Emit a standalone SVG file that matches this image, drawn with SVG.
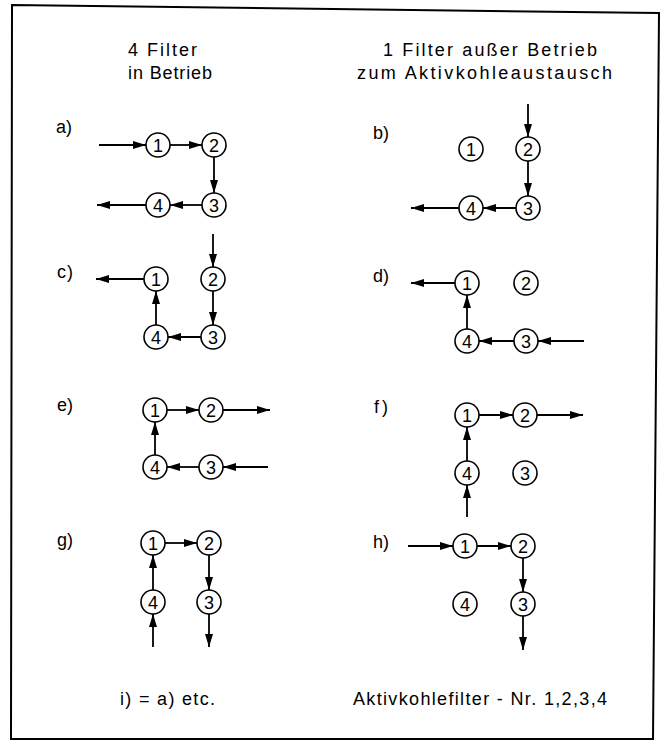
<svg xmlns="http://www.w3.org/2000/svg" width="660" height="749" viewBox="0 0 660 749">
<defs>
<marker id="ah" markerUnits="userSpaceOnUse" markerWidth="13" markerHeight="8" refX="13" refY="4" orient="auto">
<path d="M0,0 L13,4 L0,8 Z" fill="#000"/>
</marker>
<style>
.t{font-family:"Liberation Sans","DejaVu Sans",sans-serif;font-size:18px;fill:#000}
.n{font-family:"Liberation Sans","DejaVu Sans",sans-serif;font-size:18px;fill:#000;text-anchor:middle}
circle{fill:#fff;stroke:#000;stroke-width:1.6}
.c line{stroke:#000;stroke-width:1.8;marker-end:url(#ah)}
</style>
</defs>
<rect width="660" height="749" fill="#fff"/>
<path d="M12,5 L659,13 L653,739 L11,739 Z" fill="none" stroke="#000" stroke-width="2"/>

<g id="headers">
<text class="t" x="128" y="56" textLength="69">4 Filter</text>
<text class="t" x="128" y="79" textLength="84">in Betrieb</text>
<text class="t" x="383" y="56" textLength="214">1 Filter außer Betrieb</text>
<text class="t" x="357" y="79" textLength="255">zum Aktivkohleaustausch</text>
</g>

<g id="labels">
<text class="t" x="56" y="133" textLength="16">a)</text>
<text class="t" x="373" y="139" textLength="16">b)</text>
<text class="t" x="57" y="278" textLength="16">c)</text>
<text class="t" x="373" y="282" textLength="16">d)</text>
<text class="t" x="57" y="411" textLength="16">e)</text>
<text class="t" x="374" y="413" textLength="14">f)</text>
<text class="t" x="57" y="546" textLength="16">g)</text>
<text class="t" x="373" y="548" textLength="16">h)</text>
<text class="t" x="120" y="705" textLength="95">i) = a) etc.</text>
<text class="t" x="353" y="705" textLength="254">Aktivkohlefilter - Nr. 1,2,3,4</text>
</g>

<g id="connectors" class="c">
<!-- a -->
<line x1="99" y1="145" x2="146" y2="145"/>
<line x1="170" y1="145" x2="202" y2="145"/>
<line x1="214" y1="157" x2="214" y2="193"/>
<line x1="202" y1="205" x2="170" y2="205"/>
<line x1="146" y1="205" x2="97" y2="205"/>
<!-- b -->
<line x1="528" y1="104" x2="528" y2="137"/>
<line x1="528" y1="161" x2="528" y2="196"/>
<line x1="516" y1="208" x2="483" y2="208"/>
<line x1="459" y1="208" x2="411" y2="208"/>
<!-- c -->
<line x1="213" y1="234" x2="213" y2="267"/>
<line x1="213" y1="291" x2="213" y2="325"/>
<line x1="201" y1="337" x2="168" y2="337"/>
<line x1="156" y1="325" x2="156" y2="291"/>
<line x1="144" y1="279" x2="96" y2="279"/>
<!-- d -->
<line x1="584" y1="341" x2="538" y2="341"/>
<line x1="514" y1="341" x2="479" y2="341"/>
<line x1="467" y1="329" x2="467" y2="295"/>
<line x1="455" y1="283" x2="411" y2="283"/>
<!-- e -->
<line x1="167" y1="410" x2="199" y2="410"/>
<line x1="223" y1="410" x2="270" y2="410"/>
<line x1="268" y1="467" x2="223" y2="467"/>
<line x1="199" y1="467" x2="167" y2="467"/>
<line x1="155" y1="455" x2="155" y2="422"/>
<!-- f -->
<line x1="479" y1="415" x2="513" y2="415"/>
<line x1="537" y1="415" x2="583" y2="415"/>
<line x1="467" y1="461" x2="467" y2="427"/>
<line x1="467" y1="517" x2="467" y2="485"/>
<!-- g -->
<line x1="165" y1="543" x2="197" y2="543"/>
<line x1="209" y1="555" x2="209" y2="590"/>
<line x1="209" y1="614" x2="209" y2="647"/>
<line x1="153" y1="647" x2="153" y2="614"/>
<line x1="153" y1="590" x2="153" y2="555"/>
<!-- h -->
<line x1="408" y1="546" x2="453" y2="546"/>
<line x1="477" y1="546" x2="511" y2="546"/>
<line x1="523" y1="558" x2="523" y2="592"/>
<line x1="523" y1="616" x2="523" y2="650"/>
</g>

<g id="a1"><circle cx="158" cy="145" r="12"/><text class="n" x="158" y="151.5">1</text></g>
<g id="a2"><circle cx="214" cy="145" r="12"/><text class="n" x="214" y="151.5">2</text></g>
<g id="a3"><circle cx="214" cy="205" r="12"/><text class="n" x="214" y="211.5">3</text></g>
<g id="a4"><circle cx="158" cy="205" r="12"/><text class="n" x="158" y="211.5">4</text></g>

<g id="b1"><circle cx="471" cy="149" r="12"/><text class="n" x="471" y="155.5">1</text></g>
<g id="b2"><circle cx="528" cy="149" r="12"/><text class="n" x="528" y="155.5">2</text></g>
<g id="b3"><circle cx="528" cy="208" r="12"/><text class="n" x="528" y="214.5">3</text></g>
<g id="b4"><circle cx="471" cy="208" r="12"/><text class="n" x="471" y="214.5">4</text></g>

<g id="c1"><circle cx="156" cy="279" r="12"/><text class="n" x="156" y="285.5">1</text></g>
<g id="c2"><circle cx="213" cy="279" r="12"/><text class="n" x="213" y="285.5">2</text></g>
<g id="c3"><circle cx="213" cy="337" r="12"/><text class="n" x="213" y="343.5">3</text></g>
<g id="c4"><circle cx="156" cy="337" r="12"/><text class="n" x="156" y="343.5">4</text></g>

<g id="d1"><circle cx="467" cy="283" r="12"/><text class="n" x="467" y="289.5">1</text></g>
<g id="d2"><circle cx="526" cy="283" r="12"/><text class="n" x="526" y="289.5">2</text></g>
<g id="d3"><circle cx="526" cy="341" r="12"/><text class="n" x="526" y="347.5">3</text></g>
<g id="d4"><circle cx="467" cy="341" r="12"/><text class="n" x="467" y="347.5">4</text></g>

<g id="e1"><circle cx="155" cy="410" r="12"/><text class="n" x="155" y="416.5">1</text></g>
<g id="e2"><circle cx="211" cy="410" r="12"/><text class="n" x="211" y="416.5">2</text></g>
<g id="e3"><circle cx="211" cy="467" r="12"/><text class="n" x="211" y="473.5">3</text></g>
<g id="e4"><circle cx="155" cy="467" r="12"/><text class="n" x="155" y="473.5">4</text></g>

<g id="f1"><circle cx="467" cy="415" r="12"/><text class="n" x="467" y="421.5">1</text></g>
<g id="f2"><circle cx="525" cy="415" r="12"/><text class="n" x="525" y="421.5">2</text></g>
<g id="f3"><circle cx="525" cy="473" r="12"/><text class="n" x="525" y="479.5">3</text></g>
<g id="f4"><circle cx="467" cy="473" r="12"/><text class="n" x="467" y="479.5">4</text></g>

<g id="g1"><circle cx="153" cy="543" r="12"/><text class="n" x="153" y="549.5">1</text></g>
<g id="g2"><circle cx="209" cy="543" r="12"/><text class="n" x="209" y="549.5">2</text></g>
<g id="g3"><circle cx="209" cy="602" r="12"/><text class="n" x="209" y="608.5">3</text></g>
<g id="g4"><circle cx="153" cy="602" r="12"/><text class="n" x="153" y="608.5">4</text></g>

<g id="h1"><circle cx="465" cy="546" r="12"/><text class="n" x="465" y="552.5">1</text></g>
<g id="h2"><circle cx="523" cy="546" r="12"/><text class="n" x="523" y="552.5">2</text></g>
<g id="h3"><circle cx="523" cy="604" r="12"/><text class="n" x="523" y="610.5">3</text></g>
<g id="h4"><circle cx="465" cy="604" r="12"/><text class="n" x="465" y="610.5">4</text></g>
</svg>
